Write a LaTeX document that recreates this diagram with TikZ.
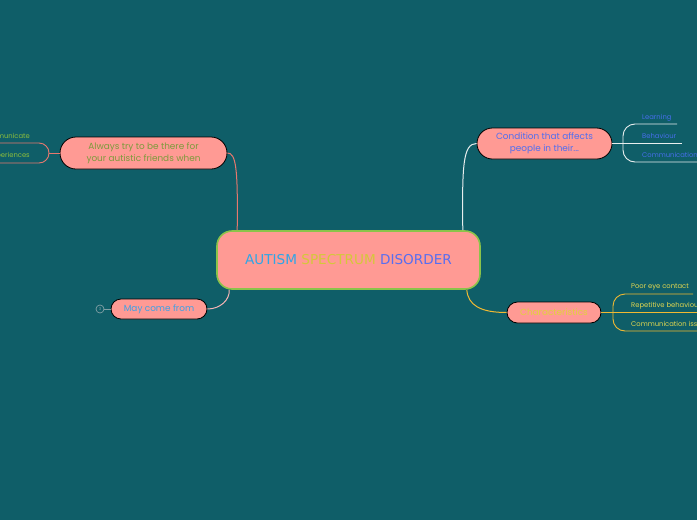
\documentclass[tikz,border=0pt]{standalone}
\usepackage{fontspec}
\newfontfamily\pop{Poppins}
\newfontfamily\dvs{DejaVu Sans}
\definecolor{bg}{RGB}{15,94,104}
\definecolor{salmon}{RGB}{255,154,148}
\definecolor{greenborder}{RGB}{139,195,74}
\definecolor{autblue}{RGB}{48,166,230}
\definecolor{specyellow}{RGB}{212,200,58}
\definecolor{disblue}{RGB}{88,110,240}
\definecolor{condtext}{RGB}{80,110,240}
\definecolor{alwaystext}{RGB}{125,155,60}
\definecolor{chartext}{RGB}{225,210,60}
\definecolor{maytext}{RGB}{60,160,230}
\definecolor{whiteline}{RGB}{232,238,238}
\definecolor{yellowline}{RGB}{240,185,50}
\definecolor{salmonline}{RGB}{230,120,110}
\definecolor{pinkline}{RGB}{245,180,180}
\definecolor{sublearn}{RGB}{70,110,235}
\definecolor{subchar}{RGB}{225,215,80}
\definecolor{subleft}{RGB}{140,190,60}
\definecolor{grayc}{RGB}{130,160,165}
\tikzset{
  topic/.style={draw=black, line width=0.8pt, fill=salmon, inner sep=0pt, align=center,
    font=\pop\fontsize{8.9}{12}\selectfont},
  sublabel/.style={anchor=base west, inner sep=0pt, font=\pop\fontsize{6.8}{8}\selectfont},
  conn/.style={line width=1pt},
}
\begin{document}
\begin{tikzpicture}[x=1pt,y=-1pt]
\fill[bg] (0,0) rectangle (697,520);
\useasboundingbox (0,0) rectangle (697,520);
\clip (0,0) rectangle (697,520);

% central
\node[draw=greenborder, line width=1.6pt, fill=salmon, rounded corners=15pt,
  minimum width=263pt, minimum height=58pt, inner sep=0pt,
  font=\dvs\fontsize{13.6}{16}\selectfont] (C) at (348.5,260)
  {\textcolor{autblue}{AUTISM} \textcolor{specyellow}{SPECTRUM} \textcolor{disblue}{DISORDER}};

% main topics
\node[topic, rounded corners=15.5pt, minimum width=135pt, minimum height=31pt, text=condtext] (Cond) at (544.5,143.5)
  {Condition that affects\\people in their...};
\node[topic, rounded corners=10.5pt, minimum width=94pt, minimum height=21pt, text=chartext] (Char) at (554,312.5)
  {Characteristics};
\node[topic, rounded corners=16pt, minimum width=167pt, minimum height=32pt, text=alwaystext] (Alw) at (143.5,153)
  {Always try to be there for\\your autistic friends when};
\node[topic, rounded corners=10pt, minimum width=96pt, minimum height=20pt, text=maytext] (May) at (159,309)
  {May come from};

% connectors from central
\draw[conn, whiteline] ([xshift=-18pt]C.north east) .. controls (462,165) and (463,143.5) .. (Cond.west);
\draw[conn, yellowline] ([xshift=-14pt]C.south east) .. controls (468,305) and (480,312.5) .. (Char.west);
\draw[conn, salmonline] ([xshift=21pt]C.north west) .. controls (238,168) and (236,153) .. (Alw.east);
\draw[conn, pinkline] ([xshift=13pt]C.south west) .. controls (230,300) and (220,309) .. (May.east);

% Condition subtopics
\node[sublabel, text=sublearn] (L1) at (642,119.5) {Learning};
\node[sublabel, text=sublearn] (L2) at (642,138.5) {Behaviour};
\node[sublabel, text=sublearn] (L3) at (642,157.5) {Communication};
\coordinate (L1e) at (677,124);
\coordinate (L2e) at (682,143.5);
\coordinate (L3e) at (697,162);
\draw[line width=0.9pt, whiteline] (Cond.east) -- (L2e);
\draw[line width=0.9pt, whiteline] (L1e) -- (635,124) to[out=180,in=90] (623,136) -- (623,150) to[out=-90,in=180] (635,162) -- (L3e);

% Characteristics subtopics
\node[sublabel, text=subchar] (K1) at (631,288.5) {Poor eye contact};
\node[sublabel, text=subchar] (K2) at (631,307.5) {Repetitive behaviours};
\node[sublabel, text=subchar] (K3) at (631,326.5) {Communication issues};
\coordinate (K1e) at (693,294);
\coordinate (K2e) at (697,312.5);
\coordinate (K3e) at (697,331);
\draw[line width=0.9pt, yellowline] (Char.east) -- (K2e);
\draw[line width=0.9pt, yellowline] (K1e) -- (625,294) to[out=180,in=90] (613,306) -- (613,319) to[out=-90,in=180] (625,331) -- (K3e);

% Always subtopics (cut off at left)
\node[draw=salmonline, line width=0.9pt, rounded corners=10pt, minimum width=100pt, minimum height=20pt, inner sep=0pt] (Exp) at (-1,153) {};
\node[anchor=base east, inner sep=0pt, text=subleft, font=\pop\fontsize{6.8}{8}\selectfont] (ExpT) at (30,157.5) {experiences};
\node[anchor=base east, inner sep=0pt, text=subleft, font=\pop\fontsize{6.8}{8}\selectfont] (ComT) at (30,138.5) {communicate};
\draw[line width=0.9pt, salmonline] (Alw.west) -- (Exp.east);

% collapse marker
\node[circle, draw=grayc, line width=0.7pt, minimum size=8pt, inner sep=0pt, text=grayc, font=\pop\fontsize{4}{4}\selectfont] (Col) at (100,309) {3};
\draw[line width=0.7pt, grayc] (Col.east) -- (May.west);
\end{tikzpicture}
\end{document}
